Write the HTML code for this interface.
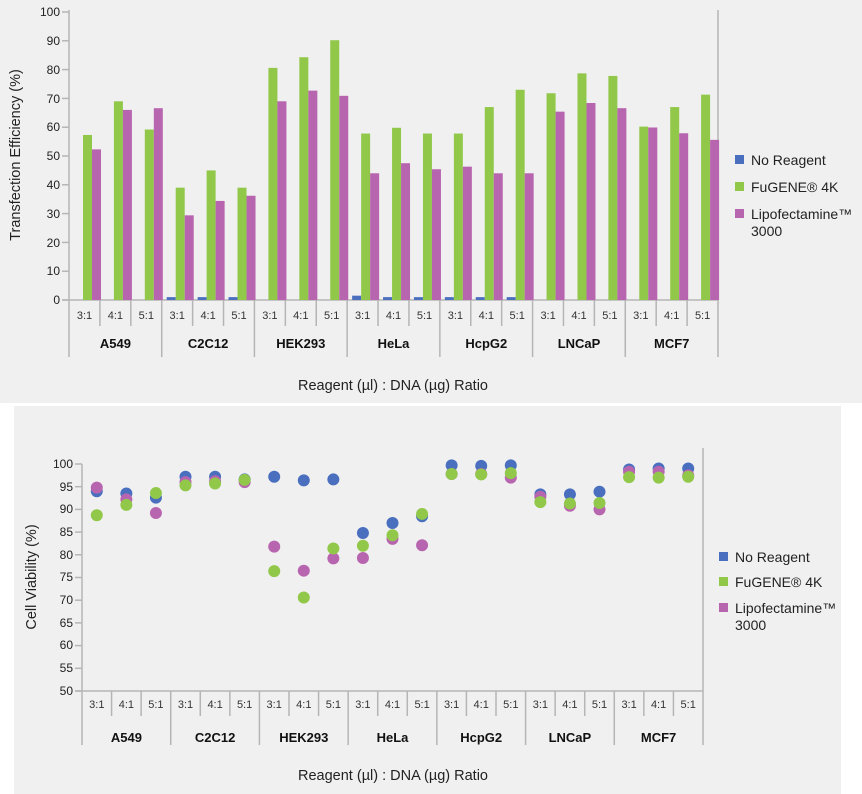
<!DOCTYPE html>
<html><head><meta charset="utf-8"><style>
html,body{margin:0;padding:0;background:#fff;}
svg{display:block;font-family:"Liberation Sans",sans-serif;}
</style></head><body>
<svg id="s" width="862" height="794" viewBox="0 0 862 794" xmlns="http://www.w3.org/2000/svg">
<rect x="0" y="0" width="862" height="403" fill="#f0f0f0"/>
<rect x="14" y="406" width="827" height="388" fill="#f0f0f0"/>
<g stroke="#b5b5b5" stroke-width="1.5" fill="none">
<line x1="69" y1="10" x2="69" y2="357"/>
<line x1="718" y1="10" x2="718" y2="357"/>
<line x1="62" y1="300" x2="718" y2="300"/>
</g>
<g stroke="#b5b5b5" stroke-width="1.5" fill="none">
<line x1="82" y1="464" x2="82" y2="745"/>
<line x1="703" y1="448" x2="703" y2="745"/>
<line x1="75" y1="691" x2="703" y2="691"/>
</g>
<g id="shapes"></g>
<g font-size="12" fill="#222" text-anchor="end">
<text x="60" y="16">100</text><text x="60" y="45">90</text><text x="60" y="74">80</text><text x="60" y="103">70</text><text x="60" y="131">60</text><text x="60" y="160">50</text><text x="60" y="189">40</text><text x="60" y="218">30</text><text x="60" y="247">20</text><text x="60" y="275">10</text><text x="60" y="304">0</text>
<text x="73" y="468">100</text><text x="73" y="491">95</text><text x="73" y="513">90</text><text x="73" y="536">85</text><text x="73" y="559">80</text><text x="73" y="581">75</text><text x="73" y="604">70</text><text x="73" y="627">65</text><text x="73" y="649">60</text><text x="73" y="672">55</text><text x="73" y="695">50</text>
</g>
<g font-size="11" fill="#333" text-anchor="middle">
<text x="84.5" y="319">3:1</text><text x="115.4" y="319">4:1</text><text x="146.3" y="319">5:1</text><text x="177.2" y="319">3:1</text><text x="208.1" y="319">4:1</text><text x="239" y="319">5:1</text><text x="269.9" y="319">3:1</text><text x="300.8" y="319">4:1</text><text x="331.7" y="319">5:1</text><text x="362.6" y="319">3:1</text><text x="393.5" y="319">4:1</text><text x="424.5" y="319">5:1</text><text x="455.4" y="319">3:1</text><text x="486.3" y="319">4:1</text><text x="517.2" y="319">5:1</text><text x="548.1" y="319">3:1</text><text x="579" y="319">4:1</text><text x="609.9" y="319">5:1</text><text x="640.8" y="319">3:1</text><text x="671.7" y="319">4:1</text><text x="702.6" y="319">5:1</text>
<text x="96.8" y="708">3:1</text><text x="126.4" y="708">4:1</text><text x="155.9" y="708">5:1</text><text x="185.5" y="708">3:1</text><text x="215.1" y="708">4:1</text><text x="244.6" y="708">5:1</text><text x="274.2" y="708">3:1</text><text x="303.8" y="708">4:1</text><text x="333.4" y="708">5:1</text><text x="362.9" y="708">3:1</text><text x="392.5" y="708">4:1</text><text x="422.1" y="708">5:1</text><text x="451.6" y="708">3:1</text><text x="481.2" y="708">4:1</text><text x="510.8" y="708">5:1</text><text x="540.4" y="708">3:1</text><text x="569.9" y="708">4:1</text><text x="599.5" y="708">5:1</text><text x="629.1" y="708">3:1</text><text x="658.6" y="708">4:1</text><text x="688.2" y="708">5:1</text>
</g>
<g font-size="13" font-weight="bold" fill="#111" text-anchor="middle">
<text x="115.4" y="348">A549</text><text x="208.1" y="348">C2C12</text><text x="300.8" y="348">HEK293</text><text x="393.5" y="348">HeLa</text><text x="486.3" y="348">HcpG2</text><text x="579" y="348">LNCaP</text><text x="671.7" y="348">MCF7</text>
<text x="126.4" y="742">A549</text><text x="215.1" y="742">C2C12</text><text x="303.8" y="742">HEK293</text><text x="392.5" y="742">HeLa</text><text x="481.2" y="742">HcpG2</text><text x="569.9" y="742">LNCaP</text><text x="658.6" y="742">MCF7</text>
</g>
<g font-size="14.5" fill="#222">
<text x="393" y="390" text-anchor="middle">Reagent (µl) : DNA (µg) Ratio</text>
<text x="393" y="780" text-anchor="middle">Reagent (µl) : DNA (µg) Ratio</text>
<text transform="translate(20,155) rotate(-90)" text-anchor="middle">Transfection Efficiency (%)</text>
<text transform="translate(36,577) rotate(-90)" text-anchor="middle">Cell Viability (%)</text>
</g>
<g font-size="14" fill="#222">
<rect x="735" y="155" width="9" height="9" fill="#4a6fbf"/><text x="751" y="165">No Reagent</text>
<rect x="735" y="182" width="9" height="9" fill="#92c84a"/><text x="751" y="192">FuGENE® 4K</text>
<rect x="735" y="209" width="9" height="9" fill="#b865b0"/><text x="751" y="219">Lipofectamine™</text><text x="751" y="236">3000</text>
<rect x="719" y="552" width="9" height="9" fill="#4a6fbf"/><text x="735" y="562">No Reagent</text>
<rect x="719" y="577" width="9" height="9" fill="#92c84a"/><text x="735" y="587">FuGENE® 4K</text>
<rect x="719" y="603" width="9" height="9" fill="#b865b0"/><text x="735" y="613">Lipofectamine™</text><text x="735" y="630">3000</text>
</g>
</svg>
<script>
(function(){
var NS="http://www.w3.org/2000/svg",g=document.getElementById("shapes");
function el(t,a){var e=document.createElementNS(NS,t);for(var k in a)e.setAttribute(k,a[k]);g.appendChild(e);return e;}
var B="#4a6fbf",G="#92c84a",P="#b865b0",L="#b5b5b5";
for(var v=0;v<=100;v+=10){var y=300-v*2.88;el("line",{x1:62,y1:y,x2:69,y2:y,stroke:L,"stroke-width":1.5});}
for(var v2=50;v2<=100;v2+=5){var yy=691-(v2-50)*4.54;el("line",{x1:75,y1:yy,x2:82,y2:yy,stroke:L,"stroke-width":1.5});}
var tw=649/21,bw=621/21;
for(var i=1;i<21;i++){var x=69+tw*i,gl=(i%3==0);el("line",{x1:x,y1:300,x2:x,y2:gl?357:326,stroke:L,"stroke-width":1.5});
var x2=82+bw*i;el("line",{x1:x2,y1:691,x2:x2,y2:gl?745:716,stroke:L,"stroke-width":1.5});}
var tdata=[[0,57.3,52.3],[0,69,66],[0,59.2,66.6],[1,39,29.4],[1,45,34.4],[1,39,36.2],[0,80.6,69],[0,84.3,72.7],[0,90.2,70.9],[1.5,57.8,44],[1,59.8,47.5],[1,57.8,45.4],[1,57.8,46.3],[1,67,44],[1,73,44],[0,71.8,65.4],[0,78.7,68.4],[0,77.8,66.6],[0,60.2,59.9],[0,67,57.9],[0,71.3,55.6]];
tdata.forEach(function(d,i){var x0=69+tw*i+5;[B,G,P].forEach(function(c,j){if(d[j]>0){var h=d[j]*2.88;el("rect",{x:x0+9*j,y:300-h,width:9,height:h,fill:c});}});});
var bdata=[[94,88.7,94.8],[93.5,91,92.2],[92.6,93.6,89.2],[97.2,95.3,96],[97.2,95.7,96.2],[96.6,96.5,96],[97.2,76.4,81.8],[96.4,70.6,76.5],[96.6,81.4,79.2],[84.8,82,79.3],[87,84.3,83.5],[88.5,89,82.1],[99.7,97.8,97.8],[99.6,97.7,97.8],[99.7,98,97],[93.3,91.6,92.8],[93.3,91.3,90.8],[93.9,91.4,90],[98.8,97.1,98.3],[99,97,98.3],[99,97.2,97.5]];
bdata.forEach(function(d,i){var cx=82+bw*(i+0.5);[[0,B],[2,P],[1,G]].forEach(function(p){el("circle",{cx:cx,cy:691-(d[p[0]]-50)*4.54,r:6,fill:p[1]});});});
})();
</script>
</body></html>
